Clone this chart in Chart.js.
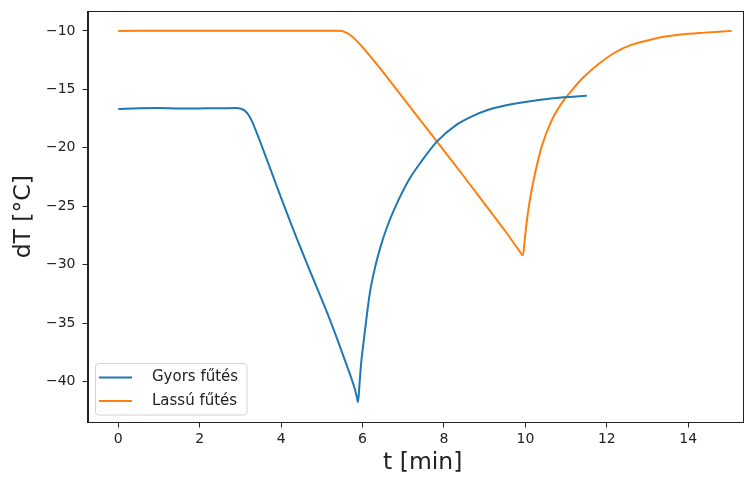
<!DOCTYPE html>
<html><head><meta charset="utf-8">
<script src="https://cdn.jsdelivr.net/npm/chart.js@4.4.0/dist/chart.umd.min.js"></script>
<style>html,body{margin:0;padding:0;background:#fff;}#wrap{width:752px;height:478px;}</style>
</head><body><div id="wrap"><canvas id="c" width="752" height="478"></canvas></div>
<script>
const seriesNames = ['Gyors fűtés', 'Lassú fűtés'];
const gyorsT  = [0, 0.5, 1.0, 1.5, 2.0, 2.5, 2.9, 3.0, 3.1, 3.2, 3.3, 3.4, 3.5, 3.6, 3.8, 3.98, 4.39, 4.80, 5.21, 5.58, 5.80, 5.86, 5.89, 5.93, 5.97, 6.03, 6.11, 6.19, 6.31, 6.44, 6.60, 6.80, 7.13, 7.46, 7.83, 8.28, 8.7, 9.09, 9.5, 9.91, 10.73, 11.51];
const gyorsDT = [-16.68, -16.62, -16.6, -16.64, -16.63, -16.62, -16.6, -16.65, -16.8, -17.2, -17.85, -18.7, -19.6, -20.55, -22.4, -24.1, -27.8, -31.3, -34.8, -38.3, -40.5, -41.3, -41.75, -40.0, -38.3, -36.5, -34.2, -32.2, -30.2, -28.5, -26.8, -25.1, -22.8, -21.1, -19.45, -18.1, -17.3, -16.75, -16.38, -16.12, -15.75, -15.55];
const lassuT  = [0, 0.5, 1.0, 1.5, 2.0, 2.5, 3.0, 3.5, 4.0, 4.5, 5.0, 5.45, 5.6, 5.75, 5.9, 6.1, 6.5, 7.0, 7.5, 8.0, 8.5, 9.0, 9.5, 9.85, 9.94, 9.98, 10.03, 10.09, 10.16, 10.23, 10.40, 10.64, 10.89, 11.09, 11.39, 11.54, 11.79, 12.20, 12.6, 13.02, 13.4, 13.84, 14.4, 15.07];
const lassuDT = [-10.02, -10.0, -9.98, -10.0, -9.99, -10.0, -10.0, -9.99, -10.0, -9.98, -10.0, -10.0, -10.15, -10.5, -11.0, -11.8, -13.5, -15.75, -18.0, -20.25, -22.5, -24.8, -27.1, -28.8, -29.2, -28.0, -26.4, -24.9, -23.5, -22.3, -19.9, -17.7, -16.2, -15.3, -14.1, -13.6, -12.85, -11.85, -11.2, -10.8, -10.5, -10.3, -10.15, -10.0];
const xTicks = [0, 2, 4, 6, 8, 10, 12, 14];
const yTicks = [-40, -35, -30, -25, -20, -15, -10];
const xLabel = '  t [min]';
const yLabel = 'dT [°C]';
const colors = ['#1f77b4', '#ff7f0e'];

const toPts = (xs, ys) => xs.map((x, i) => ({x: x, y: ys[i]}));
const fmt = v => (v < 0 ? '\u2212' + Math.abs(v) : String(v));
const FONT = 'DejaVu Sans';
const INK = '#222';

const framePlugin = {
  id: 'frame',
  afterDraw(chart) {
    const {ctx, chartArea: a} = chart;
    ctx.save();
    ctx.strokeStyle = INK; ctx.lineWidth = 1;
    ctx.strokeRect(Math.round(a.left) + 0.5, Math.round(a.top) + 0.5, Math.round(a.right - a.left) - 1, Math.round(a.bottom - a.top) - 1);
    // legend (lower left, inside axes)
    const bx = 95.5, by = 363.5, bw = 151.5, bh = 51.5, r = 3;
    ctx.beginPath();
    ctx.moveTo(bx + r, by); ctx.lineTo(bx + bw - r, by); ctx.arcTo(bx + bw, by, bx + bw, by + r, r);
    ctx.lineTo(bx + bw, by + bh - r); ctx.arcTo(bx + bw, by + bh, bx + bw - r, by + bh, r);
    ctx.lineTo(bx + r, by + bh); ctx.arcTo(bx, by + bh, bx, by + bh - r, r);
    ctx.lineTo(bx, by + r); ctx.arcTo(bx, by, bx + r, by, r);
    ctx.closePath();
    ctx.fillStyle = 'rgba(255,255,255,0.8)'; ctx.fill();
    ctx.strokeStyle = '#d4d4d4'; ctx.lineWidth = 1; ctx.stroke();
    chart.data.datasets.forEach((ds, i) => {
      const ly = 377.5 + i * 23.4;
      ctx.beginPath(); ctx.strokeStyle = ds.borderColor; ctx.lineWidth = 2;
      ctx.moveTo(99, ly); ctx.lineTo(132, ly); ctx.stroke();
      ctx.fillStyle = INK; ctx.font = '15px "' + FONT + '"'; ctx.textBaseline = 'middle'; ctx.textAlign = 'left';
      ctx.fillText(ds.label, 152, ly);
    });
    ctx.restore();
  }
};

new Chart(document.getElementById('c'), {
  type: 'scatter',
  data: {
    datasets: [
      {label: seriesNames[0], data: toPts(gyorsT, gyorsDT), borderColor: colors[0], backgroundColor: colors[0], showLine: true, pointRadius: 0, borderWidth: 2, cubicInterpolationMode: 'monotone'},
      {label: seriesNames[1], data: toPts(lassuT, lassuDT), borderColor: colors[1], backgroundColor: colors[1], showLine: true, pointRadius: 0, borderWidth: 2, cubicInterpolationMode: 'monotone'}
    ]
  },
  options: {
    responsive: false, animation: false, devicePixelRatio: 1,
    layout: {padding: {top: 11, right: 9, left: 0, bottom: 0}},
    plugins: {legend: {display: false}, tooltip: {enabled: false}},
    scales: {
      x: {
        type: 'linear', min: -0.755, max: 15.345,
        afterBuildTicks: s => { s.ticks = xTicks.map(v => ({value: v})); },
        afterFit: s => { s.height = 55.5; s.paddingLeft = 0; s.paddingRight = 0; },
        ticks: {font: {family: FONT, size: 14}, color: INK, padding: 3, maxRotation: 0, callback: v => fmt(v)},
        grid: {display: true, drawOnChartArea: false, drawTicks: true, tickLength: 5, color: INK, tickWidth: 1},
        border: {display: true, color: INK, width: 1},
        title: {display: true, text: xLabel, font: {family: FONT, size: 23.5}, color: INK, padding: {top: 0, bottom: 1}}
      },
      y: {
        type: 'linear', min: -43.5, max: -8.3,
        afterBuildTicks: s => { s.ticks = yTicks.map(v => ({value: v})); },
        afterFit: s => { s.width = 87.5; s.paddingTop = 0; s.paddingBottom = 0; },
        ticks: {font: {family: FONT, size: 14}, color: INK, padding: 7, callback: v => fmt(v)},
        grid: {display: true, drawOnChartArea: false, drawTicks: true, tickLength: 5, color: INK, tickWidth: 1},
        border: {display: true, color: INK, width: 1},
        title: {display: true, text: yLabel, font: {family: FONT, size: 23.5}, color: INK, padding: {top: 10, bottom: 0}}
      }
    }
  },
  plugins: [framePlugin]
});
</script></body></html>
